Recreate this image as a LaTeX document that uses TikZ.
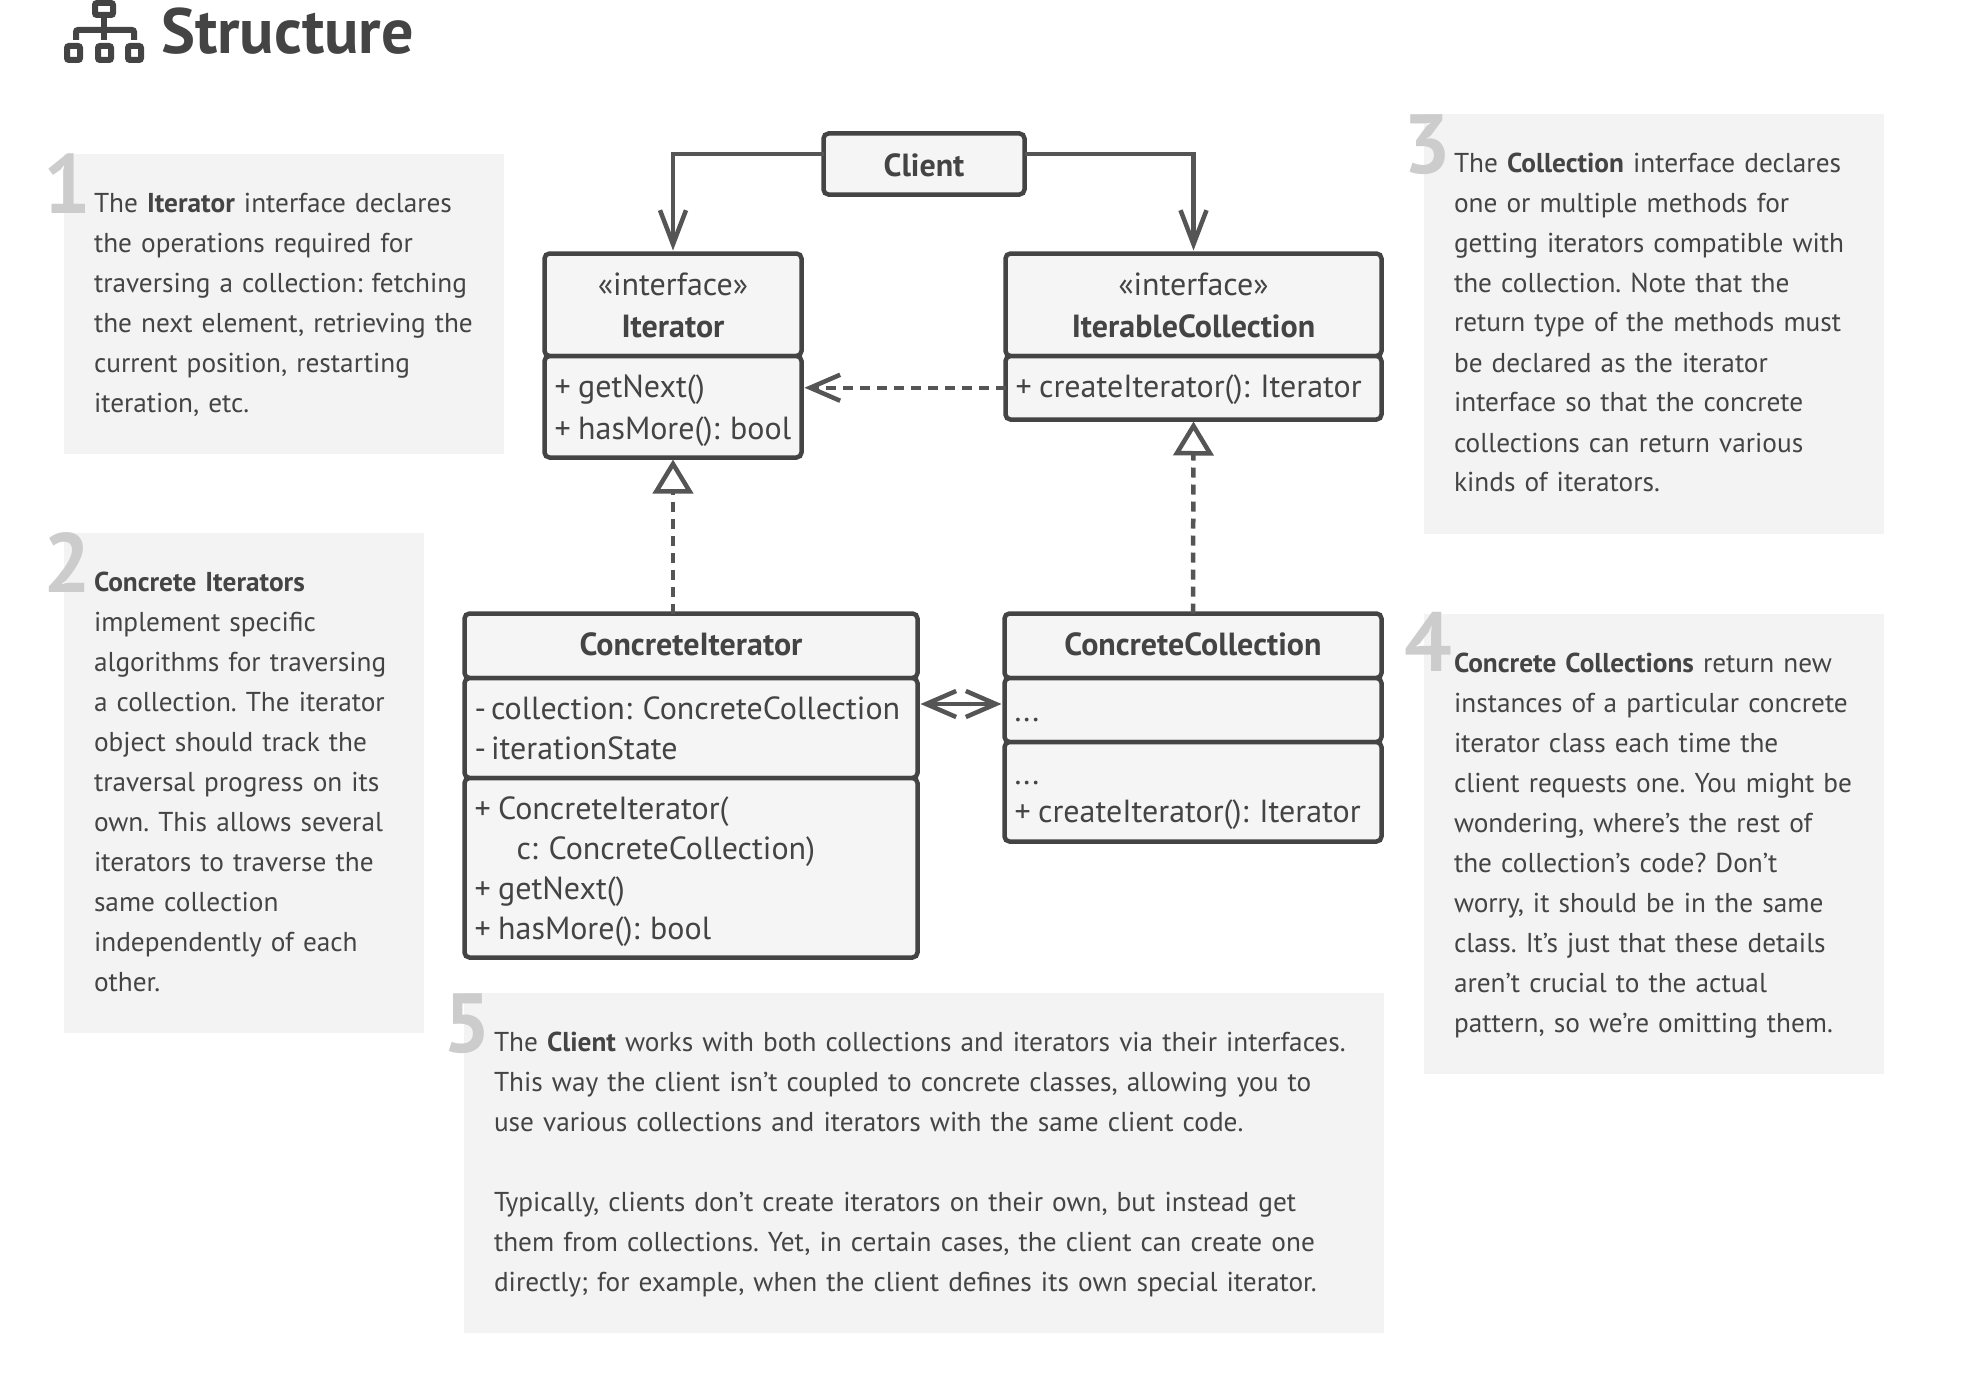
\documentclass[tikz,border=0pt]{standalone}
\usepackage{fontspec}
\setmainfont{PT Sans}
\usetikzlibrary{arrows.meta,calc}
\definecolor{ink}{HTML}{444444}
\definecolor{wire}{HTML}{555555}
\definecolor{umlfill}{HTML}{F5F5F5}
\definecolor{notefill}{HTML}{F3F3F3}
\definecolor{digit}{HTML}{CCCCCC}
\newcommand\NL[1]{\mbox{\rule[-12pt]{0pt}{40pt}#1}}
\newcommand\UL[2][11]{\mbox{\rule[-#1pt]{0pt}{40pt}#2}}
\newcommand\Pl{+\kern 7.5pt}
\newcommand\Mi{-\kern 5pt}
\newcommand\NoteBox[6]{%
  \pgfmathsetmacro\boxw{#4-#2}\pgfmathsetmacro\boxh{#5-#3}%
  \pgfmathsetmacro\textw{#4-#2-60}%
  \node[notebox,minimum width=\boxw pt,minimum height=\boxh pt,text width=\textw pt] (#1) at ({(#2+#4)/2},{(#3+#5)/2}) {#6};}
\newcommand\UBox[7]{%
  \pgfmathsetmacro\boxw{#4-#2+3}\pgfmathsetmacro\boxh{#5-#3}%
  \pgfmathsetmacro\textw{#4-#2-17}%
  \node[umlbox,align=#6,minimum width=\boxw pt,minimum height=\boxh pt,text width=\textw pt] (#1) at ({(#2+#4)/2},{(#3+#5)/2}) {#7};}
\tikzset{
  notebox/.style={fill=notefill,draw=none,inner xsep=30pt,inner ysep=0pt,outer sep=0pt,align=left,text=ink,font=\fontsize{27.3}{40}\selectfont\frenchspacing},
  umlbox/.style={draw=ink,fill=umlfill,line width=4.5pt,rounded corners=5pt,inner xsep=10pt,inner ysep=0pt,outer sep=0pt,text=ink,font=\fontsize{32}{40}\selectfont\frenchspacing},
  numeral/.style={anchor=base west,inner sep=0pt,outer sep=0pt,text=digit,font=\fontsize{84}{84}\selectfont\bfseries},
  wirebase/.style={draw=wire,line width=4.5pt},
  assoc/.style={wirebase,-{Straight Barb[length=34pt,width=26pt]}},
  dep/.style={wirebase,dash pattern=on 10pt off 7pt,-{Straight Barb[length=30pt,width=26pt]}},
  realize/.style={wirebase,dash pattern=on 10pt off 7pt,-{Triangle[open,length=34pt,width=40pt,fill=white]}},
  biassoc/.style={wirebase,{Straight Barb[length=30pt,width=26pt]}-{Straight Barb[length=30pt,width=26pt]}},
  iconline/.style={draw=ink,line width=6pt,rounded corners=2pt}
}
\begin{document}
\begin{tikzpicture}[x=1pt,y=-1pt]
\useasboundingbox (0,0) rectangle (1976,1378);
% title icon
\draw[iconline] (95,3) rectangle (113,15);
\draw[iconline] (104,15) -- (104,40);
\draw[iconline] (76,40) -- (76,30) -- (134,30) -- (134,40);
\draw[iconline] (67,46) rectangle (80,60);
\draw[iconline] (98,46) rectangle (111,60);
\draw[iconline] (128,46) rectangle (141,60);
\node[anchor=base west,inner sep=0pt,text=ink,font=\fontsize{64}{64}\selectfont\bfseries] (title) at (161,54) {Structure};
% notes
\NoteBox{noteA}{64}{154}{504}{454}{\NL{The \textbf{Iterator} interface declares}\\\NL{the operations required for}\\\NL{traversing a collection: fetching}\\\NL{the next element, retrieving the}\\\NL{current position, restarting}\\\NL{iteration, etc.}}
\NoteBox{noteB}{64}{533}{424}{1033}{\NL{\textbf{Concrete Iterators}}\\\NL{implement specific}\\\NL{algorithms for traversing}\\\NL{a collection. The iterator}\\\NL{object should track the}\\\NL{traversal progress on its}\\\NL{own. This allows several}\\\NL{iterators to traverse the}\\\NL{same collection}\\\NL{independently of each}\\\NL{other.}}
\NoteBox{noteC}{1424}{114}{1884}{534}{\NL{The \textbf{Collection} interface declares}\\\NL{one or multiple methods for}\\\NL{getting iterators compatible with}\\\NL{the collection. Note that the}\\\NL{return type of the methods must}\\\NL{be declared as the iterator}\\\NL{interface so that the concrete}\\\NL{collections can return various}\\\NL{kinds of iterators.}}
\NoteBox{noteD}{1424}{614}{1884}{1074}{\NL{\textbf{Concrete Collections} return new}\\\NL{instances of a particular concrete}\\\NL{iterator class each time the}\\\NL{client requests one. You might be}\\\NL{wondering, where’s the rest of}\\\NL{the collection’s code? Don’t}\\\NL{worry, it should be in the same}\\\NL{class. It’s just that these details}\\\NL{aren’t crucial to the actual}\\\NL{pattern, so we’re omitting them.}}
\NoteBox{noteE}{464}{993}{1384}{1333}{\NL{The \textbf{Client} works with both collections and iterators via their interfaces.}\\\NL{This way the client isn’t coupled to concrete classes, allowing you to}\\\NL{use various collections and iterators with the same client code.}\\\NL{}\\\NL{Typically, clients don’t create iterators on their own, but instead get}\\\NL{them from collections. Yet, in certain cases, the client can create one}\\\NL{directly; for example, when the client defines its own special iterator.}}
% numerals
\node[numeral] (numA) at (43,213) {1};
\node[numeral] (numB) at (43,592) {2};
\node[numeral] (numC) at (1403,173) {3};
\node[numeral] (numD) at (1404,671) {4};
\node[numeral] (numE) at (443,1052) {5};
% uml
\UBox{client}{825}{133.5}{1023}{194.5}{center}{\UL[8]{\textbf{Client}}}
\UBox{itTop}{546}{253.5}{800}{356}{center}{\UL[8]{«interface»}\\[2pt]\UL[8]{\textbf{Iterator}}}
\UBox{itBottom}{546}{356}{800}{457.5}{left}{\UL[8]{\Pl getNext()}\\[2pt]\UL[8]{\Pl hasMore(): bool}}
\UBox{icTop}{1007}{253.5}{1380}{356}{center}{\UL[8]{«interface»}\\[2pt]\UL[8]{\textbf{IterableCollection}}}
\UBox{icBottom}{1007}{356}{1380}{419.5}{left}{\UL[10]{\Pl createIterator(): Iterator}}
\UBox{ciTop}{466}{613.5}{916}{678}{center}{\UL[10]{\textbf{ConcreteIterator}}}
\UBox{ciMid}{466}{678}{916}{778}{left}{\UL[9]{\Mi collection: ConcreteCollection}\\\UL[9]{\Mi iterationState}}
\UBox{ciBot}{466}{778}{916}{957.5}{left}{\UL[8]{\Pl ConcreteIterator(}\\\UL[8]{\hspace*{42pt}c: ConcreteCollection)}\\\UL[8]{\Pl getNext()}\\\UL[8]{\Pl hasMore(): bool}}
\UBox{ccTop}{1006}{613.5}{1380}{678}{center}{\UL[10]{\textbf{ConcreteCollection}}}
\UBox{ccMid}{1006}{678}{1380}{742}{left}{\UL[9]{...}}
\UBox{ccBot}{1006}{742}{1380}{841.5}{left}{\UL[8]{...}\\[-2pt]\UL[8]{\Pl createIterator(): Iterator}}
% connectors
\draw[assoc] ([yshift=10pt]client.west) -| ([yshift=3pt]itTop.north);
\draw[assoc] ([yshift=10pt]client.east) -| ([yshift=3pt]icTop.north);
\draw[dep,shorten >=3pt] (icBottom.west) -- (icBottom.west -| itBottom.east);
\draw[realize,shorten >=2pt] (itBottom.south |- ciTop.north) -- (itBottom.south);
\draw[realize,shorten >=2pt] (ccTop.north) -- (icBottom.south);
\draw[biassoc,shorten <=3pt,shorten >=3pt] ([yshift=6pt]ccMid.west -| ciMid.east) -- ([yshift=6pt]ccMid.west);
\end{tikzpicture}
\end{document}
